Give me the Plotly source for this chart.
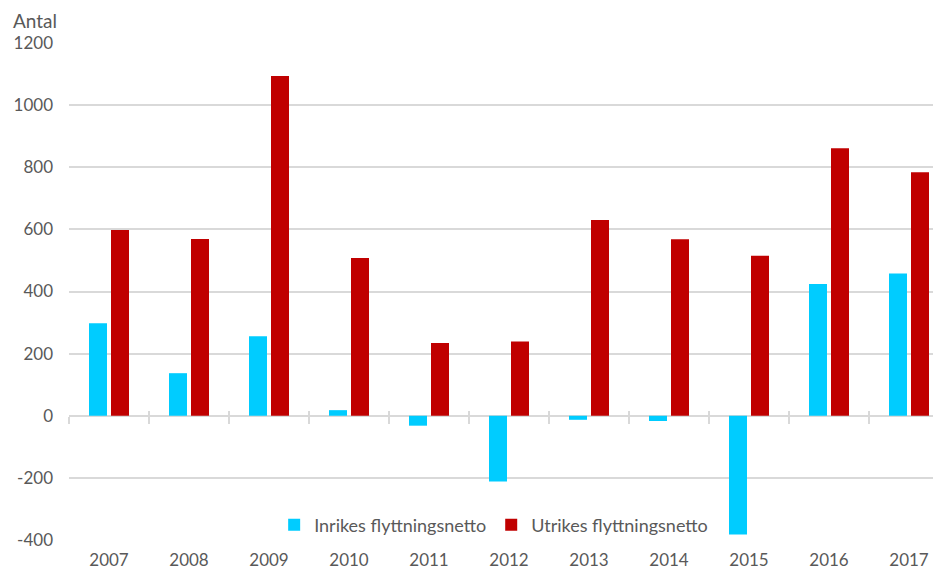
import plotly.graph_objects as go

years = ["2007", "2008", "2009", "2010", "2011", "2012", "2013", "2014", "2015", "2016", "2017"]
inrikes = [298, 137, 256, 18, -32, -212, -13, -17, -382, 424, 458]
utrikes = [598, 569, 1094, 508, 234, 239, 630, 568, 515, 861, 784]
y_ticks = [-400, -200, 0, 200, 400, 600, 800, 1000, 1200]
y_tick_text = ["-400", "-200", "0", "200", "400", "600", "800", "1000", "1200"]

CYAN = "#00CCFF"
RED = "#C00000"
GRID = "#D9D9D9"
TXT = "#595959"
FONT = "Lato"

idx = list(range(len(years)))

fig = go.Figure()
fig.add_trace(go.Bar(x=idx, y=inrikes, name="Inrikes flyttningsnetto",
                     marker=dict(color=CYAN, line=dict(width=0)),
                     width=0.225, offset=-0.25))
fig.add_trace(go.Bar(x=idx, y=utrikes, name="Utrikes flyttningsnetto",
                     marker=dict(color=RED, line=dict(width=0)),
                     width=0.225, offset=0.025))

bounds = [i - 0.5 for i in range(len(years) + 1)]
XR = [-0.5, 10.4]

fig.update_layout(
    width=933, height=563,
    margin=dict(l=61, r=0, t=35, b=31),
    paper_bgcolor="white", plot_bgcolor="white",
    barmode="overlay",
    font=dict(family=FONT, size=17, color=TXT),
    showlegend=True,
    legend=dict(orientation="h", x=0.487, y=0.03, xanchor="center", yanchor="middle",
                bgcolor="rgba(0,0,0,0)", font=dict(family=FONT, size=18, color=TXT),
                itemwidth=30, traceorder="normal"),
    xaxis=dict(range=XR, tickmode="array", tickvals=idx, ticktext=years,
               showgrid=False, zeroline=False, showline=False, ticks="",
               ticklabelstandoff=8, automargin=False,
               tickfont=dict(family=FONT, size=17, color=TXT)),
    xaxis2=dict(range=XR, overlaying="x", anchor="free", position=0.25,
                tickmode="array", tickvals=bounds, showticklabels=False,
                ticks="outside", ticklen=7, tickwidth=1.5, tickcolor=GRID,
                showgrid=False, zeroline=False, showline=False, automargin=False),
    xaxis3=dict(range=XR, overlaying="x", anchor="free", position=0.25,
                tickmode="array", tickvals=bounds, showticklabels=False,
                ticks="inside", ticklen=5, tickwidth=1.5, tickcolor=GRID,
                showgrid=False, zeroline=False, showline=False, automargin=False),
    yaxis=dict(range=[-400, 1200], tickmode="array", tickvals=y_ticks, ticktext=y_tick_text,
               showgrid=True, gridcolor=GRID, gridwidth=1.5,
               zeroline=True, zerolinecolor=GRID, zerolinewidth=1.5,
               showline=False, ticks="", ticklabelstandoff=15, automargin=False,
               tickfont=dict(family=FONT, size=17, color=TXT)),
    annotations=[dict(text="Antal", xref="paper", yref="paper", x=-0.0655, y=1.0,
                      xanchor="left", yanchor="bottom", yshift=10, borderpad=0,
                      showarrow=False, font=dict(family=FONT, size=19, color=TXT))],
)

# invisible traces to activate the overlaid tick axes
fig.add_trace(go.Scatter(x=[0], y=[0], xaxis="x2", mode="markers",
                         marker=dict(opacity=0), showlegend=False, hoverinfo="skip"))
fig.add_trace(go.Scatter(x=[0], y=[0], xaxis="x3", mode="markers",
                         marker=dict(opacity=0), showlegend=False, hoverinfo="skip"))

fig.write_html("out.html")
